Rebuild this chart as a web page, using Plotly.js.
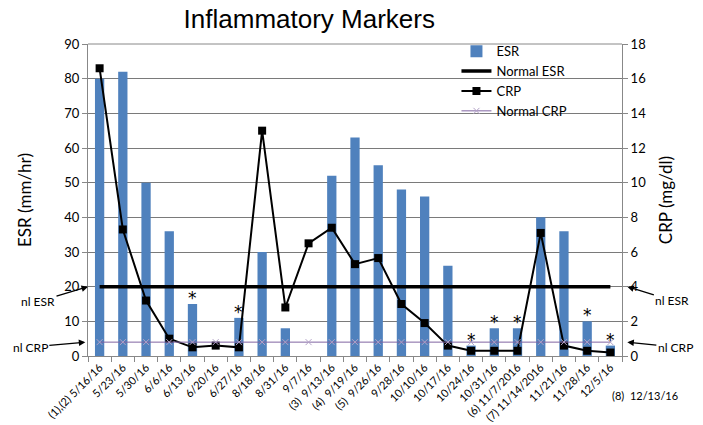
<!DOCTYPE html>
<html><head><meta charset="utf-8">
<script src="https://cdn.plot.ly/plotly-3.0.1.min.js"></script>
<style>html,body{margin:0;padding:0;background:#fff}#chart{width:703px;height:425px}</style>
</head><body><div id="chart"></div>
<script>
const categories = ["(1),(2) 5/16/16","5/23/16","5/30/16","6/6/16","6/13/16","6/20/16","6/27/16","8/18/16","8/31/16","9/7/16","(3)  9/13/16","(4)  9/19/16","(5)  9/26/16","9/28/16","10/10/16","10/17/16","10/24/16","10/31/16","(6) 11/7/2016","(7) 11/14/2016","11/21/16","11/28/16","12/5/16"];
const esr = [80,82,50,36,15,null,11,30,8,null,52,63,55,48,46,26,3,8,8,40,36,10,3];
const crp = [16.6,7.3,3.2,1.0,0.5,0.6,0.5,13.0,2.8,6.5,7.4,5.3,5.65,3.0,1.9,0.6,0.3,0.3,0.3,7.1,0.6,0.3,0.2];
const normalEsr = categories.map(() => 20);
const normalCrp = categories.map(() => 0.8);
const asteriskIdx = [4,6,16,17,18,21,22];

const font = "Lato, 'Open Sans', sans-serif";
const traces = [
  {type:'bar', name:'ESR', x:categories, y:esr, marker:{color:'#4f81bd'}, width:0.4, yaxis:'y'},
  {type:'scatter', mode:'lines', name:'Normal ESR', x:categories, y:normalEsr, line:{color:'#000', width:3.5}, yaxis:'y'},
  {type:'scatter', mode:'lines+markers', name:'CRP', x:categories, y:crp, line:{color:'#000', width:2}, marker:{symbol:'square', size:8, color:'#000'}, yaxis:'y2'},
  {type:'scatter', mode:'lines+markers', name:'Normal CRP', x:categories, y:normalCrp, line:{color:'#8064a2', width:1}, marker:{symbol:'x-thin', size:6, line:{color:'#b3a2c7', width:1}}, yaxis:'y2'}
];

const annotations = asteriskIdx.map(i => ({x:categories[i], y:esr[i], xref:'x', yref:'y', text:'*', showarrow:false, yanchor:'bottom', yshift:-6, font:{family:"'DejaVu Sans', sans-serif", size:17, color:'#000000'}}));
annotations.push(
  {xref:'paper', yref:'y', x:0, y:20, text:'nl ESR', showarrow:true, arrowhead:2, arrowsize:1, arrowwidth:1.3, arrowcolor:'#000', ax:-50, ay:15, font:{family:font, size:12, color:'#000'}},
  {xref:'paper', yref:'y', x:-0.005, y:4, text:'nl CRP', showarrow:true, arrowhead:2, arrowsize:1, arrowwidth:1.3, arrowcolor:'#000', ax:-55, ay:5, font:{family:font, size:12, color:'#000'}},
  {xref:'paper', yref:'y', x:1.01, y:20, text:'nl ESR', showarrow:true, arrowhead:2, arrowsize:1, arrowwidth:1.3, arrowcolor:'#000', ax:45, ay:14, font:{family:font, size:12, color:'#000'}},
  {xref:'paper', yref:'y', x:1.01, y:4, text:'nl CRP', showarrow:true, arrowhead:2, arrowsize:1, arrowwidth:1.3, arrowcolor:'#000', ax:48, ay:5, font:{family:font, size:12, color:'#000'}},
  {xref:'paper', yref:'paper', x:1.108, y:-0.155, text:'(8)  12/13/16', showarrow:false, xanchor:'right', font:{family:font, size:11, color:'#000'}}
);

const layout = {
  width:703, height:425,
  margin:{l:88, r:81, t:44, b:69},
  paper_bgcolor:'#fff', plot_bgcolor:'#fff',
  title:{text:'Inflammatory Markers', font:{family:"'Liberation Sans', Arial, sans-serif", size:26, color:'#000'}, x:0.44, xanchor:'center', y:0.955, yanchor:'middle'},
  showlegend:true,
  legend:{x:0.69, y:1.025, xanchor:'left', yanchor:'top', bgcolor:'rgba(255,255,255,0)', font:{family:font, size:13, color:'#000'}, tracegroupgap:0, itemwidth:30, traceorder:'normal'},
  bargap:0.6,
  xaxis:{type:'category', tickangle:-45, tickfont:{family:font, size:11, color:'#000'}, showline:true, linecolor:'#888', ticks:'outside', tickson:'boundaries', ticklen:5, tickcolor:'#888', showgrid:false, automargin:false, range:[-0.5, categories.length-0.5]},
  yaxis:{range:[0,90], dtick:10, tickfont:{family:font, size:13, color:'#000'}, showgrid:true, gridcolor:'#7a7a7a', gridwidth:1, showline:true, linecolor:'#888', ticks:'outside', ticklen:5, tickcolor:'#888', zeroline:false, title:{text:'ESR (mm/hr)', font:{family:font, size:17, color:'#000'}, standoff:28}, automargin:false},
  yaxis2:{range:[0,18], dtick:2, overlaying:'y', side:'right', tickfont:{family:font, size:13, color:'#000'}, showgrid:false, showline:true, linecolor:'#888', ticks:'outside', ticklen:5, tickcolor:'#888', zeroline:false, title:{text:'CRP (mg/dl)', font:{family:font, size:17, color:'#000'}, standoff:14}, automargin:false},
  annotations:annotations,
  shapes:[{type:'line', xref:'paper', yref:'paper', x0:0, x1:1, y0:1, y1:1, line:{color:'#888', width:1}}]
};

Plotly.newPlot('chart', traces, layout, {displayModeBar:false, staticPlot:true});
</script></body></html>
